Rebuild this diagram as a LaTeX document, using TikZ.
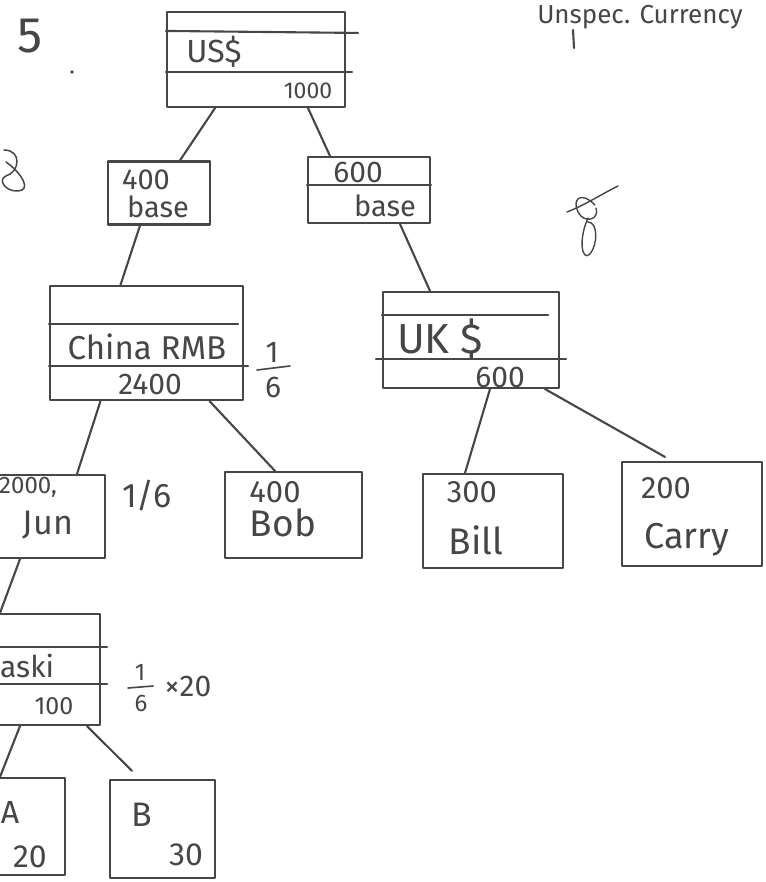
\documentclass[tikz,border=0pt]{standalone}
\usepackage{fontspec}
\setmainfont{Fira Sans}
\usetikzlibrary{calc}
\definecolor{inkc}{HTML}{464646}
\newcommand\inksize[1]{\fontsize{#1}{#1}\selectfont}
\tikzset{
  ink/.style={draw=inkc, line width=2.1pt, line cap=round, line join=round},
  box/.style={ink, rectangle, inner sep=0pt},
  hand/.style={text=inkc, inner sep=0pt},
  fracbar/.style={draw=inkc, line width=1.6pt, line cap=round},
}
\begin{document}
\begin{tikzpicture}[x=1pt, y=-1pt]
\useasboundingbox (0,0) rectangle (765,882);
\clip (0,0) rectangle (765,882);
\fill[white] (0,0) rectangle (765,882);

% heading marks
\node[hand, font=\inksize{50}] (num) at (30,36) {5};
\fill[inkc] (72,72) circle (1.8pt);
\node[hand, font=\inksize{26}, anchor=base] (cap) at (640,24) {Unspec. Currency};
\coordinate (capA) at (573,30);
\coordinate (capB) at (574,48);
\draw[ink] (capA) -- (capB);

% side squiggle and initials
\draw[ink, line width=1.5pt] (4,150) .. controls (22,150) and (20,172) .. (6,176)
  .. controls (-4,180) and (8,195) .. (22,190) .. controls (30,186) and (18,170) .. (6,162);
\draw[ink, line width=1.4pt] (567,212) .. controls (585,205) and (600,195) .. (618,186);
\draw[ink, line width=1.4pt] (595,205) .. controls (580,190) and (572,200) .. (578,212)
  .. controls (584,224) and (600,220) .. (596,208);
\draw[ink, line width=1.4pt] (588,218) .. controls (578,240) and (582,262) .. (590,254)
  .. controls (598,244) and (598,222) .. (588,222);

% ---------- boxes ----------
\node[box, minimum width=178pt, minimum height=95pt] (us) at (256,59.5) {};
\draw[ink] ([yshift=-20pt]us.north west) -- ([xshift=12pt,yshift=-22pt]us.north east);
\draw[ink] ([yshift=-61pt]us.north west) -- ([xshift=6pt,yshift=-61pt]us.north east);
\node[hand, font=\inksize{32}] (ustxt) at (214,52) {US\$};
\node[hand, font=\inksize{23}] (usamt) at (308,91) {1000};

\node[box, minimum width=102pt, minimum height=63pt] (b400) at (159,193) {};
\node[hand, font=\inksize{29}] (b400a) at (146,180) {400};
\node[hand, font=\inksize{29}] (b400b) at (158,207) {base};

\node[box, minimum width=122pt, minimum height=66pt] (b600) at (369,190) {};
\draw[ink] ([yshift=-29pt]b600.north west) -- ([yshift=-29pt]b600.north east);
\node[hand, font=\inksize{30}] (b600a) at (358,172) {600};
\node[hand, font=\inksize{29}] (b600b) at (385,206) {base};

\node[box, minimum width=193pt, minimum height=114pt] (cn) at (146.5,343) {};
\draw[ink] ([yshift=-39pt]cn.north west) -- ([xshift=-6pt,yshift=-39pt]cn.north east);
\draw[ink] ([yshift=-81pt]cn.north west) -- ([xshift=4pt,yshift=-81pt]cn.north east);
\node[hand, font=\inksize{33}] (cntxt) at (147,347) {China RMB};
\node[hand, font=\inksize{30}] (cnamt) at (150,384) {2400};
\node[hand, font=\inksize{30}] (cnfa) at (272,352) {1};
\node[hand, font=\inksize{30}] (cnfb) at (273,387) {6};
\draw[fracbar] (257,370) -- (290,366);

\node[box, minimum width=176pt, minimum height=96pt] (uk) at (471,340) {};
\draw[ink] ([yshift=-24pt]uk.north west) -- ([xshift=-12pt,yshift=-24pt]uk.north east);
\draw[ink] ([xshift=-6pt,yshift=-68pt]uk.north west) -- ([xshift=6pt,yshift=-68pt]uk.north east);
\node[hand, font=\inksize{42}] (uktxt) at (440,339) {UK \$};
\node[hand, font=\inksize{30}] (ukamt) at (500,377) {600};

\node[box, minimum width=115pt, minimum height=83pt] (jun) at (47.5,516.5) {};
\node[hand, font=\inksize{24}] (junamt) at (28,487) {2000,};
\node[hand, font=\inksize{34}] (juntxt) at (48,525) {Jun};
\node[hand, font=\inksize{34}] (junfrac) at (147,496) {1/6};

\node[box, minimum width=137pt, minimum height=86pt] (bob) at (293.5,515) {};
\node[hand, font=\inksize{31}] (bobamt) at (275,492) {400};
\node[hand, font=\inksize{37}] (bobtxt) at (283,523) {Bob};

\node[box, minimum width=140pt, minimum height=94pt] (bill) at (493,521) {};
\node[hand, font=\inksize{31}] (billamt) at (472,492) {300};
\node[hand, font=\inksize{37}] (billtxt) at (476,540) {Bill};

\node[box, minimum width=140pt, minimum height=104pt] (carry) at (692,514) {};
\node[hand, font=\inksize{31}] (carryamt) at (666,488) {200};
\node[hand, font=\inksize{36}] (carrytxt) at (687,540) {Carry};

\node[box, minimum width=110pt, minimum height=111pt] (asaki) at (45,669.5) {};
\draw[ink] ([yshift=-34pt]asaki.north west) -- ([xshift=6pt,yshift=-34pt]asaki.north east);
\draw[ink] ([yshift=-71pt]asaki.north west) -- ([xshift=6pt,yshift=-71pt]asaki.north east);
\node[hand, font=\inksize{30}, anchor=west] (asakitxt) at (0,666) {aski};
\node[hand, font=\inksize{25}] (asakiamt) at (54,706) {100};
\node[hand, font=\inksize{24}] (asakifa) at (140,672) {1};
\node[hand, font=\inksize{24}] (asakifb) at (141,703) {6};
\node[hand, font=\inksize{30}] (asakimul) at (188,686) {×20};
\draw[fracbar] (128,688) -- (153,686);

\node[box, minimum width=75pt, minimum height=97pt] (abox) at (27.5,826.5) {};
\node[hand, font=\inksize{32}] (atxt) at (10,812) {A};
\node[hand, font=\inksize{32}] (aamt) at (30,857) {20};

\node[box, minimum width=105pt, minimum height=98pt] (bbox) at (162.5,829) {};
\node[hand, font=\inksize{34}] (btxt) at (142,815) {B};
\node[hand, font=\inksize{32}] (bamt) at (186,855) {30};

% ---------- connectors ----------
\draw[ink] ([xshift=-41pt]us.south) -- ([xshift=21pt]b400.north);
\draw[ink] ([xshift=52pt]us.south) -- ([xshift=-39pt]b600.north);
\draw[ink] ([xshift=-19pt]b400.south) -- ([xshift=-26pt]cn.north);
\draw[ink] ([xshift=31pt]b600.south) -- ([xshift=-41pt]uk.north);
\draw[ink] ([xshift=-46pt]cn.south) -- ([xshift=29.5pt]jun.north);
\draw[ink] ([xshift=63pt]cn.south) -- ([xshift=-18.5pt]bob.north);
\draw[ink] ([xshift=19pt]uk.south) -- ([xshift=-28pt]bill.north);
\draw[ink] ([xshift=74pt]uk.south) -- ([xshift=-27pt,yshift=4pt]carry.north);
\draw[ink] ([xshift=-27.5pt]jun.south) -- ([xshift=-45pt]asaki.north);
\draw[ink] ([xshift=-25pt]asaki.south) -- ([xshift=-27.5pt]abox.north);
\draw[ink] ([xshift=42pt]asaki.south) -- ([xshift=-30.5pt,yshift=8pt]bbox.north);
\end{tikzpicture}
\end{document}
